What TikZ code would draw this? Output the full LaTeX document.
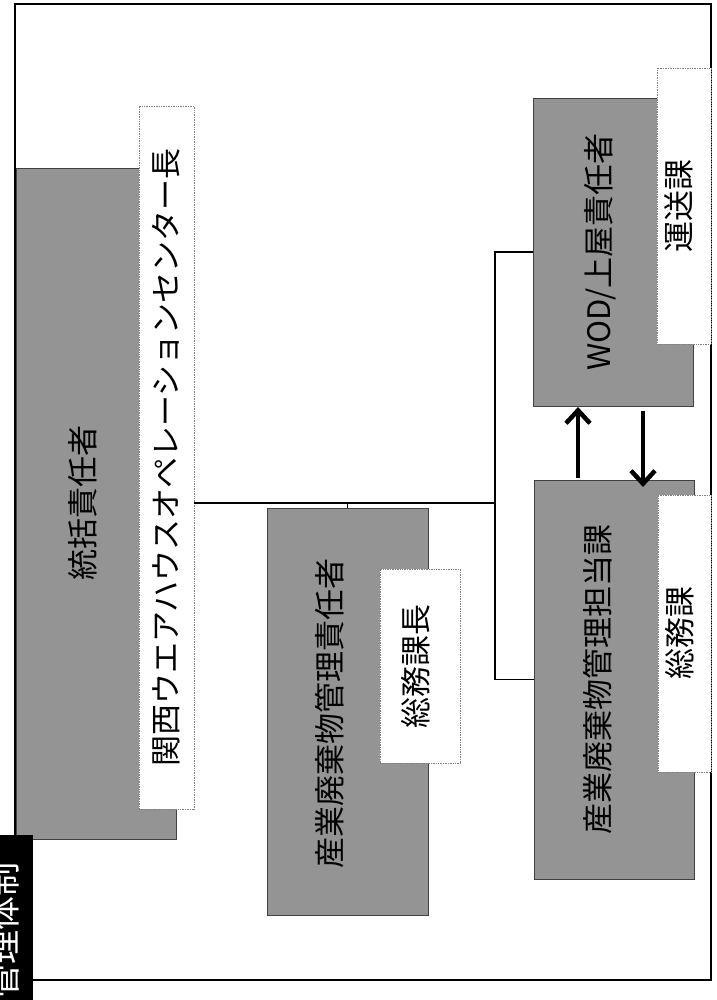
\documentclass[tikz,border=0pt]{standalone}
\usepackage{fontspec}
\newfontfamily\jp{Noto Sans CJK JP}
\usetikzlibrary{arrows.meta}
\definecolor{boxgray}{gray}{0.58}
\definecolor{edgegray}{gray}{0.25}
\tikzset{
  shadebox/.style={draw=edgegray, line width=0.9pt, fill=boxgray, inner sep=0pt, outer sep=0pt},
  labelbox/.style={draw=gray, densely dotted, line width=0.7pt, fill=white, inner sep=0pt, outer sep=0pt},
  jptext/.style={font=\jp\fontsize{31}{31}\selectfont, rotate=90, inner sep=0pt, text=black},
  conn/.style={draw=black, line width=1.8pt},
  bigarrow/.style={draw=black, line width=4.5pt, -{Straight Barb[length=13pt,width=24pt]}},
}
\begin{document}
\begin{tikzpicture}[x=1pt,y=-1pt]
\useasboundingbox (0,0) rectangle (716,1000);
\fill[white] (0,0) rectangle (716,1000);
% outer frame
\draw[line width=1.8pt] (15,4) rectangle (711,980);

% top-level box
\node[shadebox, minimum width=160pt, minimum height=671pt] (toubox) at (96,503.5) {};
\node[jptext] (toutxt) at (83,503) {統括責任者};
\node[labelbox, minimum width=55pt, minimum height=703pt] (kansai) at (166.5,457.5) {};
\node[jptext] (kansaitxt) at (kansai.center) {関西ウエアハウスオペレーションセンター長};

% industrial waste manager
\node[shadebox, minimum width=161pt, minimum height=407pt] (sekinin) at (347.5,711.5) {};
\node[jptext] (sekinintxt) at (330,713) {産業廃棄物管理責任者};
\node[labelbox, minimum width=80pt, minimum height=194pt] (kacho) at (420,666) {};
\node[jptext] (kachotxt) at (416,666) {総務課長};

% WOD box
\node[shadebox, minimum width=160pt, minimum height=308pt] (wod) at (613,252) {};
\node[jptext] (wodtxt) at (600,252) {WOD/上屋責任者};
\node[labelbox, minimum width=54pt, minimum height=276pt] (unsou) at (684,206) {};
\node[jptext] (unsoutxt) at (679,206) {運送課};

% waste handling section
\node[shadebox, minimum width=160pt, minimum height=399pt] (tanto) at (614,679.5) {};
\node[jptext] (tantotxt) at (598,679) {産業廃棄物管理担当課};
\node[labelbox, minimum width=53pt, minimum height=277pt] (soumu) at (684.5,633.5) {};
\node[jptext] (soumutxt) at (680,633) {総務課};

% connectors
\coordinate (bus) at (495,503);
\draw[conn] (kansai.east |- bus) -- (bus);
\draw[conn] (sekinin.north) -- (sekinin.north |- bus);
\draw[conn] (wod.west) -- (wod.west -| bus) |- (tanto.west);

% arrows
\coordinate (upx) at (578,0);
\coordinate (dnx) at (643,0);
\draw[bigarrow] ([yshift=2pt]tanto.north -| upx) -- ([yshift=-1pt]wod.south -| upx);
\draw[bigarrow] ([yshift=-5pt]wod.south -| dnx) -- ([yshift=-7pt]tanto.north -| dnx);

% title block
\begin{scope}
\clip (0,0) rectangle (716,1000);
\fill[black] (0,835) rectangle (33,1000);
\node[font=\jp\fontsize{34}{34}\selectfont, rotate=90, inner sep=0pt, text=white] (title) at (4,930) {管理体制};
\end{scope}
\end{tikzpicture}
\end{document}
